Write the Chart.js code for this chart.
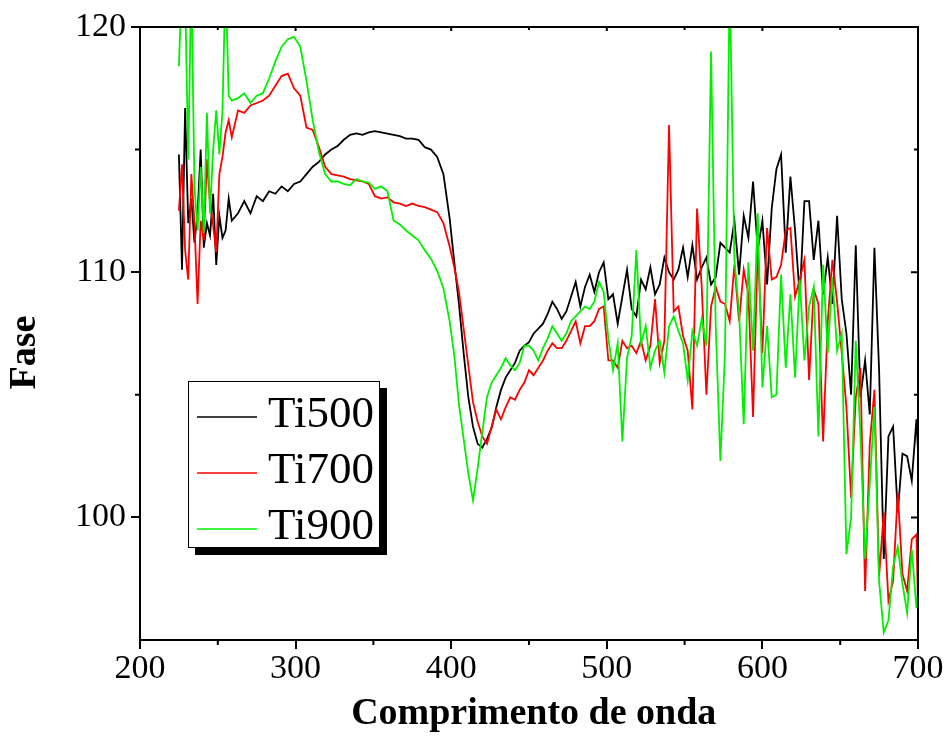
<!DOCTYPE html>
<html>
<head>
<meta charset="utf-8">
<script src="https://cdn.jsdelivr.net/npm/chart.js@4.4.1/dist/chart.umd.min.js"></script>
<style>
  html, body { margin: 0; padding: 0; background: #fff; }
</style>
</head>
<body>
<canvas id="chart" width="947" height="738"></canvas>
<script>
//--- Data.
const wavelength = [
  225, 227, 229, 231, 233, 235, 237, 239, 241, 243, 245, 247, 249, 251, 253, 255, 257, 259,
  263, 267, 271, 275, 279, 283, 287, 291, 295, 299, 303, 307, 311, 315, 319, 323, 327, 331,
  335, 339, 343, 347, 351, 355, 359, 363, 367, 371, 375, 379, 383, 387, 391, 395, 399,
  402, 405, 408, 411, 414, 417, 420, 423, 426, 429, 432, 435, 438, 441, 444, 447, 450, 453,
  456, 459, 462, 465, 468, 471, 474, 477, 480, 483, 486, 489, 492, 495, 498, 501,
  504, 507, 510, 513, 516, 519, 522, 525, 528, 531, 534, 537, 540, 543, 546, 549, 552, 555, 558,
  561, 564, 567, 570, 573, 576, 579, 582, 585, 588, 591, 594, 597, 600, 603, 606, 609, 612,
  615, 618, 621, 624, 627, 630, 633, 636, 639, 642, 645, 648, 651, 654, 657, 660, 663,
  666, 669, 672, 675, 678, 681, 684, 687, 690, 693, 696, 699, 700
];

const ti500 = [
  114.8, 110.1, 116.7, 112.0, 113.0, 111.2, 112.4, 115.0, 111.0, 112.0, 111.5, 113.2, 110.3, 112.3, 111.4, 111.7, 113.0, 112.1,
  112.4, 112.9, 112.4, 113.1, 112.9, 113.3, 113.2, 113.5, 113.3, 113.6, 113.7, 114.0, 114.3, 114.5, 114.8, 115.0, 115.15, 115.4,
  115.6, 115.66, 115.6, 115.7, 115.75, 115.7, 115.65, 115.6, 115.55, 115.45, 115.45, 115.4, 115.1, 115.0, 114.7, 114.0, 112.2,
  110.4, 108.7, 106.7, 104.9, 103.7, 103.0, 102.85, 103.2, 103.65, 104.5, 105.2, 105.7, 106.0, 106.3, 106.8, 107.0, 107.15, 107.5,
  107.7, 107.9, 108.3, 108.8, 108.5, 108.1, 108.4, 109.0, 109.6, 108.6, 109.4, 109.9, 109.2, 110.0, 110.4, 108.9,
  109.1, 107.9, 109.0, 110.1, 108.5, 108.2, 109.7, 109.3, 110.2, 109.1, 109.5, 110.6, 110.0, 109.7, 110.1, 111.0, 109.8, 111.1, 109.7,
  110.2, 110.6, 109.5, 109.8, 111.2, 111.0, 110.8, 112.1, 109.9, 112.3, 111.4, 113.7, 110.9, 112.1, 109.5, 112.6, 114.2, 114.8,
  110.8, 113.9, 111.7, 109.0, 112.9, 112.9, 110.5, 112.1, 109.1, 110.6, 108.7, 112.3, 108.9, 107.5, 105.0, 111.1, 104.9,
  106.4, 104.2, 111.0, 106.0, 98.3, 103.3, 103.7, 100.2, 102.6, 102.5, 101.5, 104.0, 102.7
];

const ti700 = [
  112.5, 114.4, 110.9, 109.7, 114.0, 112.0, 108.7, 112.1, 111.3, 114.6, 112.8, 111.9, 110.8, 114.0, 114.7, 115.7, 116.2, 115.5,
  116.6, 116.5, 116.8, 116.9, 117.0, 117.2, 117.6, 118.0, 118.1, 117.5, 117.2, 115.9, 115.8, 115.1, 114.3, 114.0, 113.95, 113.9,
  113.8, 113.75, 113.7, 113.6, 113.1, 113.0, 113.05, 112.85, 112.8, 112.7, 112.8, 112.7, 112.65, 112.55, 112.45, 112.0, 111.05,
  110.2, 109.2, 107.7, 106.2, 104.7, 103.9, 103.3, 103.0, 103.7, 104.4, 104.0, 104.5, 104.9, 104.8, 105.2, 105.5, 106.0, 105.8,
  106.1, 106.4, 106.8, 107.1, 106.9, 106.9, 107.2, 107.6, 108.0, 107.1, 107.8, 107.8, 108.0, 108.5, 108.6, 106.4,
  106.4, 106.1, 107.2, 106.9, 107.0, 106.7, 107.2, 106.4, 107.0, 108.9, 106.3, 107.2, 116.0, 108.4, 108.6, 107.4, 106.8, 104.4, 112.6,
  109.4, 105.0, 108.6, 109.4, 108.8, 108.7, 108.0, 110.3, 108.0, 110.1, 109.1, 104.1, 111.0, 106.7, 111.8, 109.7, 109.8, 110.3,
  111.7, 111.8, 109.0, 109.7, 110.5, 105.6, 109.3, 108.7, 103.1, 108.0, 110.5, 108.8, 106.7, 104.5, 100.8, 104.9, 106.1,
  97.0, 103.0, 105.2, 97.6, 100.2, 96.6, 97.4, 101.0, 97.7, 97.0, 99.1, 99.3, 96.4
];

const ti900 = [
  118.4, 122.0, 121.5, 114.6, 122.0, 113.5, 111.7, 114.3, 111.6, 116.5, 112.4, 115.0, 116.6, 114.8, 116.6, 122.0, 117.2, 117.0,
  117.1, 117.3, 116.9, 117.2, 117.3, 117.9, 118.6, 119.2, 119.5, 119.6, 119.2, 117.8, 116.2, 114.9, 114.0, 113.7, 113.7, 113.6,
  113.55, 113.8, 113.7, 113.65, 113.4, 113.5, 113.3, 112.1, 111.95, 111.7, 111.5, 111.3, 110.9, 110.55, 110.05, 109.35, 108.0,
  106.6, 104.6, 103.2, 101.8, 100.7, 102.0, 103.5, 104.9, 105.5, 105.8, 106.1, 106.5, 106.2, 106.0, 106.3, 107.0, 107.0, 106.8,
  106.4, 106.9, 107.3, 107.8, 107.5, 107.2, 107.5, 108.0, 108.2, 108.4, 108.6, 108.5, 108.8, 109.6, 109.2, 107.3,
  106.0, 107.1, 103.1, 106.5, 107.4, 110.9, 107.1, 107.8, 106.1, 106.8, 107.2, 105.9, 107.8, 108.2, 107.6, 107.1, 105.6, 107.6, 107.0,
  108.1, 107.0, 119.0, 107.8, 102.3, 106.8, 122.0, 110.5, 108.4, 103.8, 110.4, 106.8, 112.4, 105.3, 107.8, 104.9, 105.0, 109.9,
  106.1, 109.1, 105.7, 109.7, 106.4, 108.6, 109.4, 103.3, 110.3, 106.7, 109.8, 106.8, 107.5, 98.5, 100.0, 107.2, 103.4,
  98.3, 101.4, 104.5, 97.4, 95.3, 95.8, 98.0, 98.8, 97.3, 96.1, 98.7, 96.3, 97.0
];

const seriesNames = ['Ti500', 'Ti700', 'Ti900'];
const xTicks = [200, 300, 400, 500, 600, 700];
const yTicks = [100, 110, 120];

const serif = 'Liberation Serif, Times New Roman, serif';

//--- Frame: top/right border plus minor and inward ticks.
const frameTicks = {
  id: 'frameTicks',
  afterDraw(chart) {
    const { ctx, chartArea: a, scales: { x, y } } = chart;
    ctx.save();
    ctx.strokeStyle = '#000';
    ctx.lineWidth = 2;
    ctx.beginPath();
    ctx.moveTo(a.left, a.top);
    ctx.lineTo(a.right, a.top);
    ctx.lineTo(a.right, a.bottom);
    ctx.stroke();

    ctx.beginPath();
    xTicks.forEach((v, i) => {
      const px = x.getPixelForValue(v);
      ctx.moveTo(px, a.top);
      ctx.lineTo(px, a.top + 4);
      if (i < xTicks.length - 1) {
        const mx = x.getPixelForValue((v + xTicks[i + 1]) / 2);
        ctx.moveTo(mx, a.bottom);
        ctx.lineTo(mx, a.bottom + 5);
        ctx.moveTo(mx, a.top);
        ctx.lineTo(mx, a.top + 3);
      }
    });
    yTicks.forEach((v, i) => {
      const py = y.getPixelForValue(v);
      ctx.moveTo(a.right, py);
      ctx.lineTo(a.right - 7, py);
      if (i < yTicks.length - 1) {
        const my = y.getPixelForValue((v + yTicks[i + 1]) / 2);
        ctx.moveTo(a.left, my);
        ctx.lineTo(a.left - 5, my);
        ctx.moveTo(a.right, my);
        ctx.lineTo(a.right - 4, my);
      }
    });
    ctx.stroke();
    ctx.restore();
  }
};

//--- Boxed legend with a drop shadow.
const boxLegend = {
  id: 'boxLegend',
  afterDatasetsDraw(chart) {
    const { ctx, chartArea: a } = chart;
    const left = a.left + 48;
    const top = a.top + 354;
    const w = 192;
    const h = 167;
    ctx.save();
    ctx.fillStyle = '#000';
    ctx.fillRect(left + 7, top + 7, w, h);
    ctx.fillStyle = '#fff';
    ctx.fillRect(left, top, w, h);
    ctx.strokeStyle = '#000';
    ctx.lineWidth = 1;
    ctx.strokeRect(left + 0.5, top + 0.5, w - 1, h - 1);

    ctx.font = '45px ' + serif;
    ctx.textBaseline = 'alphabetic';
    ctx.textAlign = 'left';
    chart.data.datasets.forEach((ds, i) => {
      const base = top + 46 + i * 56;
      ctx.strokeStyle = ds.borderColor;
      ctx.lineWidth = 1.5;
      ctx.beginPath();
      ctx.moveTo(left + 9, base - 10);
      ctx.lineTo(left + 69, base - 10);
      ctx.stroke();
      ctx.fillStyle = '#000';
      ctx.fillText(ds.label, left + 80, base);
    });
    ctx.restore();
  }
};

const series = [ti500, ti700, ti900];
const colors = ['#000000', '#ff0000', '#00f000'];

new Chart(document.getElementById('chart'), {
  type: 'line',
  data: {
    datasets: series.map((values, i) => ({
      label: seriesNames[i],
      data: values.map((v, j) => ({ x: wavelength[j], y: v })),
      borderColor: colors[i],
      borderWidth: 1.8,
      pointRadius: 0,
      tension: 0,
      fill: false,
      order: 2 - i
    }))
  },
  options: {
    responsive: false,
    animation: false,
    devicePixelRatio: 1,
    layout: {
      padding: { top: 27, right: 29, bottom: 0, left: 0 }
    },
    plugins: {
      legend: { display: false },
      tooltip: { enabled: false }
    },
    scales: {
      x: {
        type: 'linear',
        min: 200,
        max: 700,
        afterBuildTicks: (s) => { s.ticks = xTicks.map(v => ({ value: v })); },
        afterFit: (s) => { s.height = 98; },
        grid: { drawOnChartArea: false, tickLength: 9, color: '#000', lineWidth: 2 },
        border: { display: true, color: '#000', width: 2 },
        ticks: {
          color: '#000',
          padding: 0,
          maxRotation: 0,
          autoSkip: false,
          font: { family: serif, size: 34 }
        },
        title: {
          display: true,
          text: '\u00a0Comprimento de onda',
          color: '#000',
          padding: { top: 0, bottom: 1 },
          font: { family: serif, size: 38, weight: 'bold' }
        }
      },
      y: {
        type: 'linear',
        min: 95,
        max: 120,
        afterBuildTicks: (s) => { s.ticks = yTicks.map(v => ({ value: v })); },
        afterFit: (s) => { s.width = 140; },
        grid: { drawOnChartArea: false, tickLength: 9, color: '#000', lineWidth: 2 },
        border: { display: true, color: '#000', width: 2 },
        ticks: {
          color: '#000',
          padding: 5,
          font: { family: serif, size: 34 }
        },
        title: {
          display: true,
          text: 'Fase\u00a0\u00a0\u00a0\u00a0',
          color: '#000',
          padding: { top: 2, bottom: 0 },
          font: { family: serif, size: 38, weight: 'bold' }
        }
      }
    }
  },
  plugins: [frameTicks, boxLegend]
});
</script>
</body>
</html>
